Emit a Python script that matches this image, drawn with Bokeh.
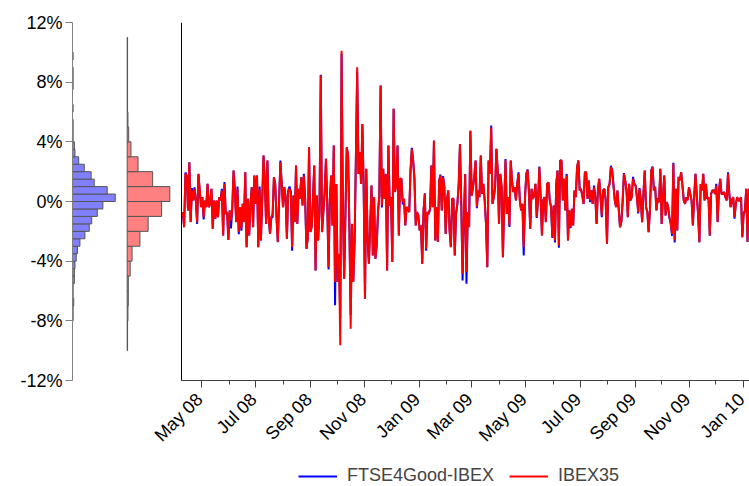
import math
import pandas as pd
from bokeh.plotting import figure
from bokeh.models import (Range1d, FixedTicker, PrintfTickFormatter, CustomJSTickFormatter,
                          Legend, LegendItem, ColumnDataSource, Label, LinearAxis)
from bokeh.embed import file_html
from bokeh.resources import INLINE

FONT = "Liberation Sans"

# ---------------- data ----------------
series_start = "2008-04-10"
series_end = "2010-01-07"

ibex35 = [
    -0.71, -1.72, 1.85, 1.74, -0.60, 2.63, -1.38, 0.74, 0.07, 0.85,
    0.07, -1.38, 1.85, 0.74, -0.38, 0.29, -1.05, 0.07, -0.38, 1.18,
    -0.38, -0.16, 0.85, -1.83, 0.07, -1.16, 0.07, -1.05, 0.29, 0.07,
    0.74, -2.28, 1.18, -0.83, -0.71, -2.57, -0.60, -1.27, -0.49, 2.08,
    0.74, -1.38, 0.85, -2.05, -0.38, -1.83, -0.16, -1.38, 1.96, -3.06,
    0.18, -2.28, -0.16, 0.96, -1.72, 1.74, -0.16, 1.74, -3.06, 0.85,
    -2.61, 0.07, 3.08, 1.41, -1.50, 2.75, -1.05, -2.17, -1.05, -0.83,
    1.63, 1.18, -1.05, -2.72, 0.07, 2.63, 1.18, -0.38, 0.96, 0.29,
    -2.50, 0.74, 0.85,
    0.63, -3.06, 0.40, -1.38, 2.41, -1.50, 0.85, 0.18, 1.63, -0.27,
    1.74, 0.18, -3.17, -2.50, 3.64, -2.05, -1.72, 0.18, 2.41, -4.62,
    0.40, -2.61, -0.71, 8.44, -2.05, -0.71, 0.63, 2.86, -0.27, -4.40,
    0.18, 1.74, -1.61, 3.75, -5.40, 1.18, -5.40, -3.50, -9.64, 10.11,
    -0.27, -5.18, -0.71, 3.64, 3.08, -1.61, -8.53, -1.50, -5.40, -2.72,
    2.86, 9.00, 1.85, 3.30, 1.18, 5.20, 0.85, -6.52, 2.19, -2.50,
    -4.17, -1.61, 1.07, -3.62, 0.29, -3.84, -2.95, -0.71, 0.40, 7.77,
    -0.27, 2.19, 0.18, 1.85, -4.62, 3.75, -0.27, 0.29, -4.06, 6.21,
    0.63, 1.07, 3.75, -2.28, 1.52, 1.52, -0.04, 0.18, -1.61, -0.38,
    -0.49,
    -0.71, 2.08, 3.53, 2.75, 1.52, -1.61, -0.71, -0.94, -1.94, -1.61,
    -4.17, -0.60, 0.51, -3.17, -0.71, -0.83, -0.49, 2.41, -0.38, 4.08,
    -2.61, -0.38, -2.72, 1.41, 1.74, -0.60, 1.63, 0.96, -2.17, 0.07,
    0.74, -1.94, -3.06, 0.18, 0.18, -3.62, -0.83, -0.16, 1.07, 3.86,
    -0.16, -4.84, -1.27, 1.85, -4.73, -0.71, -1.72, 4.75, 0.40, 0.96,
    1.63, 2.75, -0.38, 0.74, 0.29, 3.08, 0.51, 1.18, 0.07, -1.50,
    -4.40, 2.75, 1.85, 4.98, -0.16, 0.29, 0.96, 3.53, 2.08, -1.50,
    1.85, 0.96, -3.73, -0.16, 2.75, -0.83, 0.29, -1.61, 2.75, 1.41,
    0.63, 0.96, 0.07, 1.18, 1.85, 0.07, -0.60,
    -0.16, -3.06, 0.29, 1.85, 2.08, 0.63, -1.83, 0.85, 0.18, 0.40,
    1.18, -1.05, 0.07, 2.30, 0.29, -2.28, 0.07, 0.29, -1.38, 1.18,
    1.29, 0.07, -0.38, -2.39, -0.27, -2.61, 1.18, 2.08, -2.95, 2.75,
    2.75, 0.07, 1.52, -0.60, 1.74, -2.61, -0.60, -1.72, -0.49, -1.61,
    0.74, 0.29, 2.30, 2.75, 0.74, 0.85, 0.40, -0.16, 1.96, 1.96,
    0.18, 1.41, 0.07, 0.74, -0.16, 0.96, 0.29, -1.50, 0.74, 1.52,
    0.29, -0.94, 0.74, 0.85, 0.07, -2.83, 0.96, 1.18, 2.30, 2.08,
    1.07, 0.07, -0.38, 0.74, -0.49, -1.72, -1.38, -0.04, 1.85, 1.41,
    0.74, -1.05, 1.18, 0.07, 0.29, 1.52, 1.18,
    1.07, 0.29, -0.71, 0.85, 0.07, -1.38, 0.51, 2.08, -0.38, -0.71,
    -2.05, -0.60, 2.08, 2.30, 0.74, 0.96, -0.60, 0.18, -0.04, 2.19,
    -1.50, 0.29, 1.74, -0.94, -0.04, -0.38, -1.05, -1.50, -2.17, 2.52,
    -2.61, 0.85, -1.94, 1.63, 1.41, 1.96, 1.07, 0.07, -0.16, 0.29,
    0.07, 0.96, 0.51, 0.07, -1.61, 0.29, 1.85, 0.40, -0.83, -2.72,
    1.18, 0.74, 1.85, 0.07, 1.18, 0.18, 0.29, -2.28, 0.51, 0.74,
    0.74, 0.51, 1.07, -1.38, 0.63, 1.52, 0.51, 0.51, 0.63, 0.29,
    0.07, 1.85, 0.51, -0.38, 0.07, 0.29, -1.05, -0.16, 0.29, 0.07,
    0.07, 0.29, -2.39, -0.83, -0.60, 0.85, -2.72, 0.85,
]

ftse4good_ibex = [
    -0.71, -1.72, 1.95, 1.74, -0.60, 2.63, -1.38, 0.90, 0.07, 0.95,
    0.07, -1.50, 1.85, 0.74, -0.38, 0.29, -1.20, 0.07, -0.38, 1.18,
    -0.38, -0.16, 0.85, -1.83, 0.07, -1.16, 0.07, -1.05, 0.29, 0.07,
    0.85, -2.28, 1.30, -0.83, -0.71, -2.57, -0.60, -1.80, -0.49, 2.08,
    0.74, -1.38, 1.00, -2.20, -0.38, -1.95, -0.16, -1.38, 1.96, -3.06,
    0.18, -2.28, -0.16, 0.96, -1.72, 1.74, -0.16, 1.74, -3.06, 1.00,
    -2.61, 0.07, 3.08, 1.41, -1.50, 2.75, -1.05, -2.17, -1.05, -1.05,
    1.63, 1.18, -1.05, -2.72, 0.07, 2.75, 1.18, -0.38, 0.96, 0.29,
    -2.50, 0.74, 1.00,
    0.63, -3.30, 0.40, -1.38, 2.41, -1.50, 0.85, 0.18, 1.63, -0.27,
    1.85, 0.18, -3.17, -2.50, 3.64, -2.05, -1.72, 0.18, 2.41, -4.62,
    0.40, -2.61, -0.71, 8.50, -2.05, -0.71, 0.63, 2.86, -0.27, -4.55,
    0.18, 1.74, -1.61, 3.75, -6.96, 1.18, -5.40, -3.90, -7.90, 9.90,
    -0.27, -5.18, -0.71, 3.64, 3.08, -1.61, -7.60, -1.65, -5.40, -2.72,
    2.86, 8.70, 1.85, 3.30, 1.18, 5.20, 0.85, -6.52, 2.19, -2.50,
    -4.17, -1.61, 1.07, -3.62, 0.29, -3.84, -2.95, -0.71, 0.40, 7.77,
    -0.40, 2.19, 0.18, 1.85, -4.62, 3.75, -0.27, 0.29, -4.06, 6.21,
    0.63, 1.20, 3.75, -2.28, 1.52, 1.52, -0.20, 0.18, -1.61, -0.38,
    -0.49,
    -0.71, 2.08, 3.60, 2.75, 1.60, -1.61, -0.71, -0.94, -1.94, -1.61,
    -4.17, -0.60, 0.55, -3.30, -0.71, -0.83, -0.49, 2.41, -0.38, 4.08,
    -2.61, -0.38, -2.72, 1.41, 1.80, -0.60, 1.70, 0.96, -2.17, 0.07,
    0.74, -1.94, -3.06, 0.18, 0.18, -3.62, -0.83, -0.16, 1.07, 3.86,
    -0.16, -5.29, -1.27, 1.85, -5.51, -0.71, -1.72, 4.75, 0.40, 0.96,
    1.63, 2.75, -0.45, 0.74, 0.29, 3.08, 0.51, 1.18, 0.07, -1.50,
    -4.40, 2.75, 1.85, 5.09, -0.16, 0.29, 0.96, 3.53, 2.08, -1.50,
    1.85, 0.96, -3.73, -0.16, 2.85, -0.83, 0.29, -1.70, 2.75, 1.41,
    0.63, 0.96, 0.07, 1.18, 1.95, 0.07, -0.60,
    -0.16, -3.62, 0.29, 1.85, 2.15, 0.63, -1.83, 0.85, 0.18, 0.40,
    1.18, -1.10, 0.07, 2.35, 0.29, -2.28, 0.07, 0.29, -1.38, 1.18,
    1.29, 0.07, -0.38, -2.45, -0.27, -2.75, 1.18, 2.08, -3.10, 2.75,
    2.75, 0.07, 1.52, -0.60, 1.85, -2.61, -0.60, -1.78, -0.49, -1.61,
    0.74, 0.29, 2.30, 2.75, 0.74, 0.85, 0.40, -0.16, 1.96, 1.96,
    0.18, 1.41, -0.05, 0.74, -0.16, 1.07, 0.29, -1.50, 0.74, 1.52,
    0.29, -1.05, 0.74, 0.85, 0.07, -2.83, 0.96, 1.18, 2.40, 2.08,
    1.07, 0.07, -0.38, 0.74, -0.49, -1.72, -1.38, -0.04, 1.90, 1.41,
    0.74, -1.05, 1.18, 0.07, 0.29, 1.65, 1.18,
    1.07, 0.29, -0.80, 0.90, 0.07, -1.38, 0.51, 2.08, -0.38, -0.71,
    -2.05, -0.60, 2.08, 2.35, 0.74, 1.00, -0.60, 0.25, -0.04, 2.19,
    -1.50, 0.29, 1.74, -0.94, -0.04, -0.38, -1.10, -1.50, -2.30, 2.60,
    -2.75, 0.85, -1.94, 1.65, 1.41, 1.96, 1.07, 0.07, -0.16, 0.29,
    0.10, 0.96, 0.51, 0.07, -1.61, 0.29, 1.85, 0.40, -0.83, -2.75,
    1.18, 0.74, 1.85, 0.07, 1.18, 0.18, 0.29, -2.30, 0.51, 0.74,
    0.74, 0.51, 1.18, -1.38, 0.63, 1.52, 0.51, 0.51, 0.63, 0.29,
    0.07, 1.95, 0.51, -0.38, 0.07, 0.30, -1.15, -0.16, 0.29, 0.07,
    0.07, 0.29, -2.39, -0.83, -0.60, 0.85, -2.72, 0.85,
]

# histogram of FTSE4Good-IBEX returns (0.5% bins), lower bin edges and counts
ftse_bin_lo = [-8.0, -7.5, -7.0, -6.5, -6.0, -5.5, -5.0, -4.5, -4.0, -3.5,
               -3.0, -2.5, -2.0, -1.5, -1.0, -0.5, 0.0, 0.5, 1.0, 1.5,
               2.0, 2.5, 3.0, 3.5, 4.0, 4.5, 5.0, 5.5, 6.0, 6.5,
               7.0, 7.5, 8.0, 8.5, 9.0, 9.5]
ftse_counts = [1, 1, 2, 1, 1, 3, 3, 4, 6, 8,
               12, 20, 27, 31, 40, 49, 69, 56, 35, 30,
               19, 10, 4, 3, 1, 1, 1, 0, 1, 0,
               0, 1, 1, 1, 0, 1]
ftse_bin_w = 0.5

# histogram of IBEX35 returns (1% bins)
ibex_bin_lo = [-10, -9, -8, -7, -6, -5, -4, -3, -2, -1, 0, 1, 2, 3, 4, 5, 6, 7, 8, 9, 10]
ibex_counts = [1, 1, 2, 3, 3, 8, 13, 34, 56, 92, 114, 68, 29, 10, 4, 2, 1, 1, 1, 1, 1]
ibex_bin_w = 1.0

y_ticks = [-12, -8, -4, 0, 4, 8, 12]
y_axis_bounds = (-12, 12)
window_start = pd.Timestamp("2008-04-08 12:00")   # left edge of the time-series panel
window_end = pd.Timestamp("2010-01-07 18:00")     # right edge of the time-series panel
major_months = pd.date_range("2008-05-01", "2010-01-01", freq="2MS")
minor_months = pd.date_range("2008-05-01", "2010-01-01", freq="MS")
major_labels = [d.strftime("%b %y") for d in major_months]

# ---------------- layout constants (pixels) ----------------
FRAME_LEFT = 72       # left y-axis position
SERIES_LEFT = 181     # start of the time-series panel
FRAME_RIGHT = 749
FRAME_W = FRAME_RIGHT - FRAME_LEFT
BLUE_PX = 0.62        # px per count, FTSE histogram
RED_PX = 0.374        # px per count, IBEX histogram
RED_BASE = 54.7       # px offset of the IBEX histogram baseline from the y-axis
PLOT_H = 358          # px height of the -12%..12% band
BELOW_H = 106         # px kept below -12% for tick labels and legend
PX_PER_PCT = PLOT_H / 24.0

ms = lambda t: t.value / 1e6
ws, we = ms(window_start), ms(window_end)
px_per_ms = (FRAME_RIGHT - SERIES_LEFT) / (we - ws)
x_range = Range1d(ws - (SERIES_LEFT - FRAME_LEFT) / px_per_ms, we)
y_range = Range1d(-12 - BELOW_H / PX_PER_PCT, 12)

p = figure(frame_width=FRAME_W, frame_height=PLOT_H + BELOW_H, output_backend="svg",
           toolbar_location=None, x_axis_type="datetime", x_range=x_range, y_range=y_range,
           min_border_left=FRAME_LEFT, min_border_right=0, min_border_top=22, min_border_bottom=0)
p.extra_x_ranges = {
    "blue": Range1d(0, FRAME_W / BLUE_PX),
    "red": Range1d(-RED_BASE / RED_PX, (FRAME_W - RED_BASE) / RED_PX),
}

# histograms
src_f = ColumnDataSource(dict(y=[b + ftse_bin_w / 2 for b in ftse_bin_lo], right=ftse_counts))
src_i = ColumnDataSource(dict(y=[b + ibex_bin_w / 2 for b in ibex_bin_lo], right=ibex_counts))
p.hbar(y="y", left=0, right="right", height=ftse_bin_w, source=src_f, x_range_name="blue",
       fill_color="#8080ff", line_color="#555555", line_width=1)
p.hbar(y="y", left=0, right="right", height=ibex_bin_w, source=src_i, x_range_name="red",
       fill_color="#ff8080", line_color="#555555", line_width=1)

# time series
dates = pd.date_range(series_start, series_end, periods=len(ibex35))
src = ColumnDataSource(dict(date=dates, ftse=ftse4good_ibex, ibex=ibex35))
r_f = p.line("date", "ftse", source=src, line_color="#0000ff", line_width=2)
r_i = p.line("date", "ibex", source=src, line_color="#ff0000", line_width=2)

# percent axis
ax = p.yaxis[0]
ax.ticker = FixedTicker(ticks=y_ticks)
ax.bounds = y_axis_bounds
ax.formatter = PrintfTickFormatter(format="%d%%")
ax.axis_line_color = "#808080"
ax.major_tick_line_color = "#808080"
ax.major_tick_out = 7
ax.major_tick_in = 0
ax.minor_tick_line_color = None
ax.major_label_text_font = FONT
ax.major_label_text_font_size = "18px"
ax.major_label_text_color = "#000000"
ax.major_label_standoff = 3

# left border of the time-series panel
ts_axis = LinearAxis(fixed_location=ws, ticker=FixedTicker(ticks=[]), bounds=y_axis_bounds,
                     axis_line_color="#000000", major_tick_line_color=None,
                     minor_tick_line_color=None)
p.add_layout(ts_axis, "left")

# date axis
xax = p.xaxis[0]
xax.fixed_location = y_axis_bounds[0]
xax.bounds = (ws, we)
xax.ticker = FixedTicker(ticks=[ms(d) for d in major_months], minor_ticks=[ms(d) for d in minor_months])
xax.formatter = CustomJSTickFormatter(code="return ''")
xax.axis_line_color = "#404040"
xax.major_tick_line_color = "#404040"
xax.minor_tick_line_color = "#404040"
xax.major_tick_out = 7
xax.major_tick_in = 0
xax.minor_tick_out = 4
xax.minor_tick_in = 0
xax.major_label_standoff = 0

# rotated tick labels ending at their tick, as in the reference
label_y = y_axis_bounds[0] - 16 / PX_PER_PCT
for d, txt in zip(major_months, major_labels):
    p.add_layout(Label(x=ms(d), y=label_y, x_offset=-2, text=txt, angle=math.pi / 4,
                       text_align="right", text_baseline="middle",
                       text_font=FONT, text_font_size="18px", text_color="#000000"))

legend = Legend(items=[LegendItem(label="FTSE4Good-IBEX", renderers=[r_f]),
                       LegendItem(label="IBEX35", renderers=[r_i])],
                orientation="horizontal", location=(298 - FRAME_LEFT, 0),
                label_text_font=FONT, label_text_font_size="18px",
                glyph_width=39, label_standoff=10, spacing=15,
                border_line_color=None, background_fill_alpha=0, padding=0, margin=0)
p.add_layout(legend, "center")

p.xgrid.visible = False
p.ygrid.visible = False
p.outline_line_color = None
p.background_fill_color = "white"
p.border_fill_color = "white"

open("out.html", "w").write(file_html(p, INLINE))
